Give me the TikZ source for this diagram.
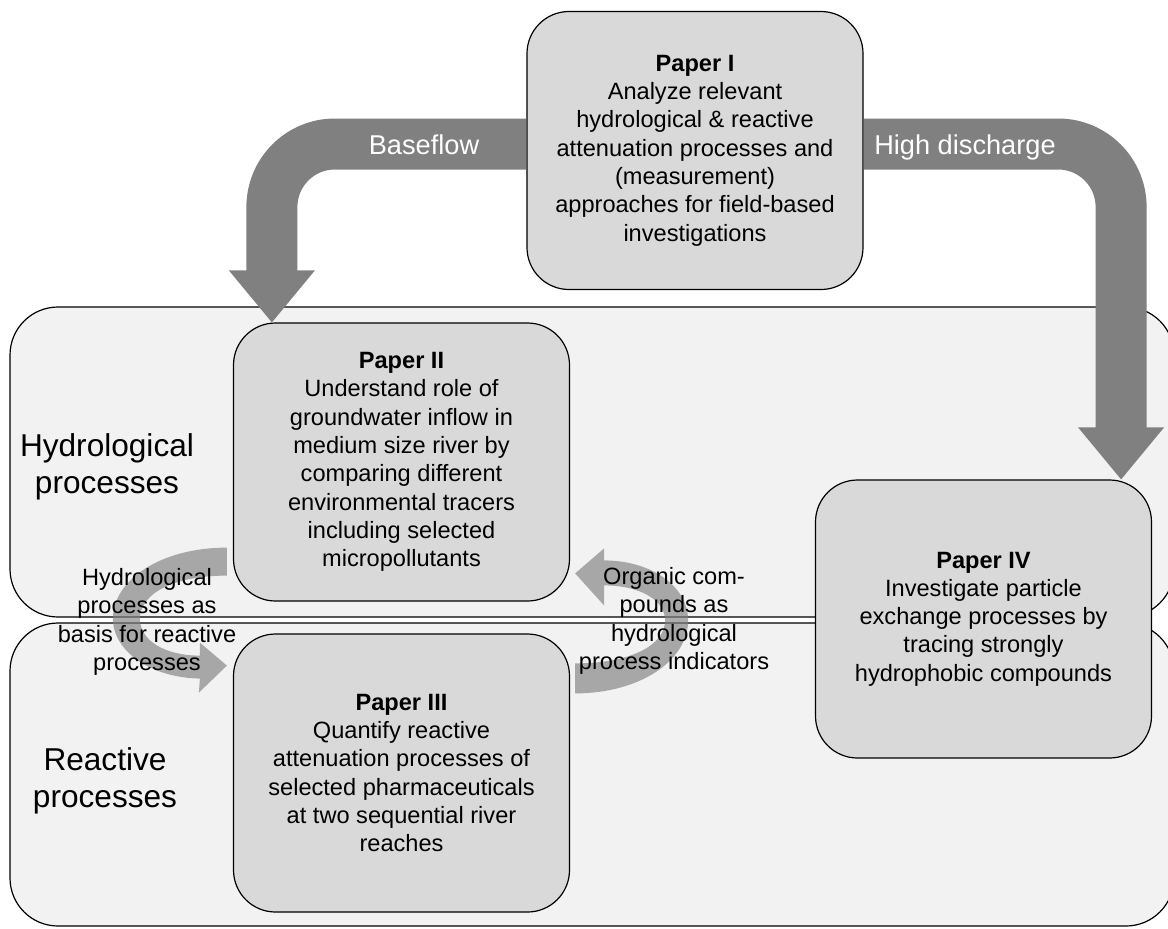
\documentclass[tikz,border=0pt]{standalone}
\usepackage{fontspec}
\setmainfont{Liberation Sans}
\usetikzlibrary{calc}

\begin{document}
\begin{tikzpicture}[x=0.5pt, y=-0.5pt,
    bandbox/.style={draw, line width=0.6pt, fill=gray!10, rounded corners=24pt},
    paper/.style={draw, line width=0.6pt, fill=gray!30, rounded corners=21pt,
        minimum width=168pt, minimum height=139pt, align=center,
        font=\fontsize{11.8}{14.15}\selectfont},
    bandlabel/.style={align=center, font=\fontsize{15.8}{18.5}\selectfont},
    flowband/.style={draw=gray, line width=25.5pt, rounded corners=31.5pt},
    flowlabel/.style={anchor=base, text=white, font=\fontsize{13.6}{16}\selectfont},
    turnarrow/.style={fill=gray, fill opacity=0.65},
    turnlabel/.style={align=center, font=\fontsize{11.8}{14.15}\selectfont}]

    \useasboundingbox (0,0) rectangle (1168,928);

    % Process bands
    \draw[bandbox] (10,307) rectangle (1174,617);
    \draw[bandbox] (10,623) rectangle (1174,926);
    \node[bandlabel] (hydro) at (107,467) {Hydrological\\processes};
    \node[bandlabel] (react) at (105,781) {Reactive\\processes};

    % Papers
    \node[paper] (p1) at (695,150.5) {\textbf{Paper I}\\Analyze relevant\\hydrological \& reactive\\attenuation processes and\\(measurement)\\approaches for field-based\\investigations};
    \node[paper] (p2) at (401.5,462) {\textbf{Paper II}\\Understand role of\\groundwater inflow in\\medium size river by\\comparing different\\environmental tracers\\including selected\\micropollutants};
    \node[paper] (p3) at (401.5,773) {\textbf{Paper III}\\Quantify reactive\\attenuation processes of\\selected pharmaceuticals\\at two sequential river\\reaches};
    \node[paper] (p4) at (983.5,619) {\textbf{Paper IV}\\Investigate particle\\exchange processes by\\tracing strongly\\hydrophobic compounds};

    % Flow arrows
    \coordinate (basetip) at ($(p2.north west)+(39,0)$);
    \coordinate (hightip) at ($(p4.north east)+(-31,0)$);
    \draw[flowband, shorten <=0.3pt] (p1.west |- 0,144) -| ($(basetip)+(0,-51)$);
    \fill[gray] (basetip) -- ++(-43,-52) -- ++(86,0) -- cycle;
    \draw[flowband, shorten <=0.3pt] (p1.east |- 0,144) -| ($(hightip)+(0,-51)$);
    \fill[gray] (hightip) -- ++(-43,-52) -- ++(86,0) -- cycle;
    \node[flowlabel] (baselbl) at (424,154) {Baseflow};
    \node[flowlabel] (highlbl) at (965,154) {High discharge};

    % Turning arrows between Paper II and Paper III
    \begin{scope}[shift={(p2.south west)}]
        \fill[turnarrow] (-6,-54) .. controls (-73,-54) and (-120,-21) .. (-120,17)
            .. controls (-120,49) and (-83,76) .. (-33,77) -- (-34,91) -- (-6,64)
            -- (-33,41) -- (-33,54) .. controls (-68,54) and (-93,39) .. (-93,17)
            .. controls (-93,-6) and (-63,-26) .. (-6,-26) -- cycle;
    \end{scope}
    \begin{scope}[shift={(p3.north east)}]
        \fill[turnarrow] (5,60) .. controls (70,60) and (118,27) .. (118,-13)
            .. controls (118,-48) and (80,-73) .. (34,-73) -- (34,-85) -- (5,-60)
            -- (34,-28) -- (34,-48) .. controls (70,-48) and (95,-33) .. (95,-13)
            .. controls (95,12) and (60,30) .. (5,30) -- cycle;
    \end{scope}
    \node[turnlabel] (hydrolbl) at (147,622) {Hydrological\\processes as\\basis for reactive\\processes};
    \node[turnlabel] (orglbl) at (674,621) {Organic com-\\pounds as\\hydrological\\process indicators};
\end{tikzpicture}
\end{document}
